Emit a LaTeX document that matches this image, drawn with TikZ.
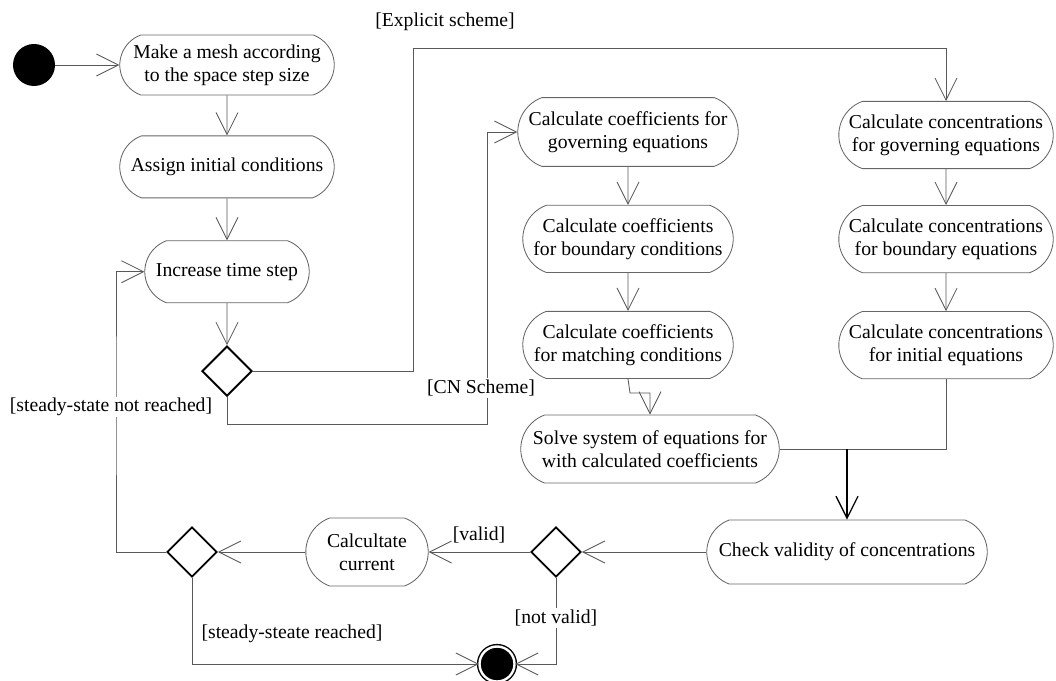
\documentclass[tikz,border=0pt]{standalone}
\usepackage{fontspec}
\setmainfont{Liberation Serif}
\usetikzlibrary{shapes.geometric, shapes.misc, arrows.meta, positioning}

\begin{document}
\begin{tikzpicture}[
    x=0.025cm, y=-0.025cm,
    node distance=0.95cm,
    every node/.style={font=\fontsize{14}{16.6}\selectfont},
    activity/.style={
      rounded rectangle,
      rounded rectangle arc length=140,
      draw=gray!80!black,
      line width=0.6pt,
      minimum height=1.68cm,
      minimum width=5.5cm,
      align=center,
      inner sep=2pt
    },
    decision/.style={
      diamond,
      draw=black,
      line width=1.3pt,
      inner sep=0pt,
      minimum width=1.25cm,
      minimum height=1.25cm
    },
    guard/.style={
      inner sep=1pt
    },
    flow/.style={
      -{Straight Barb[length=0.55cm, width=0.55cm]},
      draw=gray!70!black,
      line width=0.6pt
    }
  ]

  \useasboundingbox (0,0) rectangle (1056,681);

  % Nodes
  \node[circle, fill=black, inner sep=0pt, minimum size=1.05cm] (start) at (34,65) {};
  \node[activity, minimum height=1.5cm] (mesh) at (227,65) {Make a mesh according\\to the space step size};
  \node[activity, minimum height=1.55cm, below=1.0cm of mesh] (assign) {Assign initial conditions};
  \node[activity, minimum height=1.55cm, minimum width=4.25cm, below=1.05cm of assign] (incr) {Increase time step};
  \node[decision, below=1.05cm of incr] (dec1) {};

  \node[activity, minimum width=5.65cm, minimum height=1.72cm] (cgov) at (628,132) {Calculate coefficients for\\governing equations};
  \node[activity, minimum width=5.4cm, below=of cgov] (cbnd) {Calculate coefficients\\for boundary conditions};
  \node[activity, minimum width=5.4cm, below=of cbnd] (cmatch) {Calculate coefficients\\for matching conditions};
  \node[activity, minimum width=6.6cm, minimum height=1.7cm] (solve) at (650,449) {Solve system of equations for\\with calculated coefficients};

  \node[activity] (kgov) at (946,135) {Calculate concentrations\\for governing equations};
  \node[activity, below=0.9cm of kgov] (kbnd) {Calculate concentrations\\for boundary equations};
  \node[activity, below=of kbnd] (kinit) {Calculate concentrations\\for initial equations};

  \node[activity, minimum width=7.15cm, minimum height=1.6cm] (check) at (847,552) {Check validity of concentrations};
  \node[decision] (dec2) at (556,552) {};
  \node[activity, minimum width=3.2cm, minimum height=1.7cm] (current) at (367,552) {Calcultate\\current};
  \node[decision] (dec3) at (192,552) {};
  \node[circle, fill=black, draw=black, line width=1pt, double=white, double distance=0.06cm,
        inner sep=0pt, minimum size=0.875cm] (stop) at (497,664) {};

  % Bends
  \coordinate (exbend) at (413,48);
  \coordinate (cnbend) at (487,424);
  \coordinate (mbend) at (630,393);
  \coordinate (merge) at (solve.east -| check.north);
  \coordinate (loopx) at (116,400);

  % Connectors
  \draw[flow] (start) -- (mesh);
  \draw[flow] (mesh) -- (assign);
  \draw[flow] (assign) -- (incr);
  \draw[flow] (incr) -- (dec1);
  \draw[flow] (dec1.east) -| (exbend) -| (kgov.north);
  \draw[flow] (dec1.south) |- (cnbend) |- (cgov.west);
  \draw[flow] (cgov) -- (cbnd);
  \draw[flow] (cbnd) -- (cmatch);
  \draw[flow] (cmatch.south) -- (mbend) -| (solve.north);
  \draw[flow] (kgov) -- (kbnd);
  \draw[flow] (kbnd) -- (kinit);
  \draw[gray!70!black, line width=0.6pt] (solve.east) -- (merge);
  \draw[gray!70!black, line width=0.6pt] (kinit.south) |- (merge);
  \draw[flow, draw=black, line width=0.9pt] (merge) -- (check.north);
  \draw[flow] (check.west) -- (dec2.east);
  \draw[flow] (dec2.west) -- (current.east);
  \draw[flow] (current.west) -- (dec3.east);
  \draw[flow] (dec3.west) -| (loopx) |- (incr.west);
  \draw[flow] (dec3.south) |- (stop.west);
  \draw[flow] (dec2.south) |- (stop.east);

  % Guards
  \node[guard] (lexplicit) at (445,22) {[Explicit scheme]};
  \node[guard, fill=white] (lcn) at (481,388) {[CN Scheme]};
  \node[guard] (lvalid) at (479,535) {[valid]};
  \node[guard, fill=white] (lnotvalid) at (556,618) {[not valid]};
  \node[guard, fill=white] (lnotreached) at (111,407) {[steady-state not reached]};
  \node[guard] (lreached) at (292,634) {[steady-steate reached]};

\end{tikzpicture}
\end{document}
